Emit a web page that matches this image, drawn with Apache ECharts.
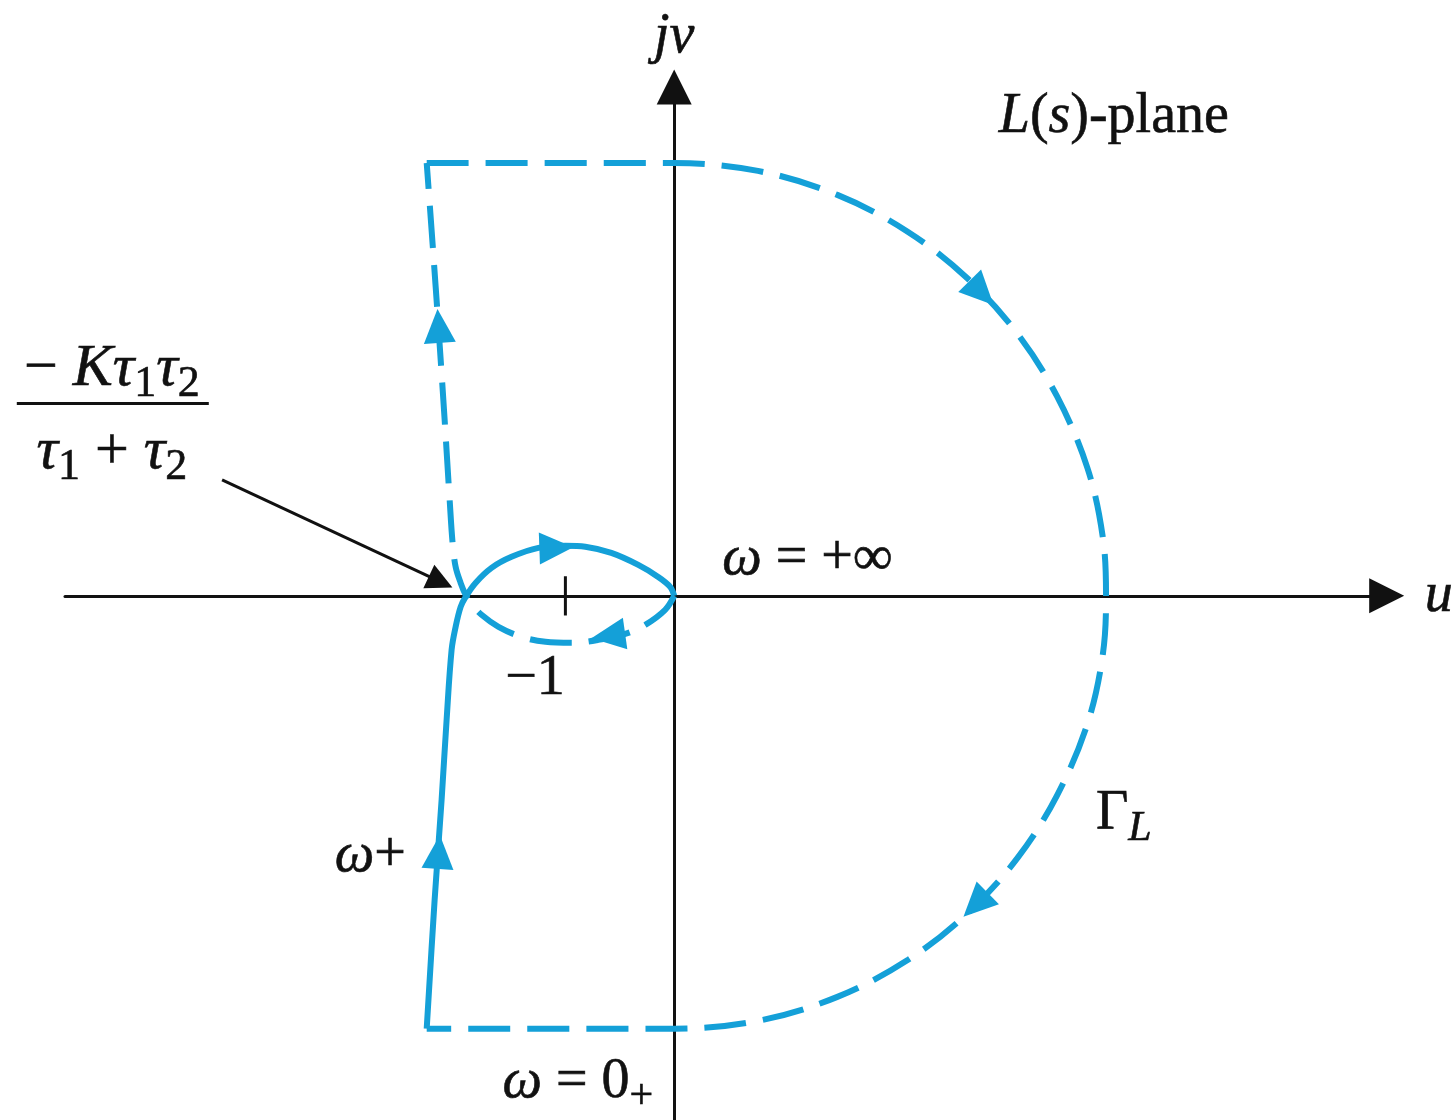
<!DOCTYPE html>
<html>
<head>
<meta charset="utf-8">
<style>
  html, body { margin: 0; padding: 0; background: #ffffff; }
  #chart { width: 1456px; height: 1120px; }
</style>
<script src="https://cdn.jsdelivr.net/npm/echarts@6/dist/echarts.min.js"></script>
</head>
<body>
<div id="chart"></div>
<script>
// Nyquist contour Γ_L of L(s) drawn in the L(s)-plane (u + jv).

// ω from 0+ up to +∞ (solid branch), [u, v]
const positiveBranch = [
  [-2.275, -3.972], [-2.202, -2.789], [-2.138, -1.872], [-2.092, -1.138],
  [-2.046, -0.495], [-2.009, -0.284], [-1.963, -0.101], [-1.917, -0.009],
  [-1.826, 0.119], [-1.679, 0.257], [-1.495, 0.358], [-1.248, 0.440],
  [-1.000, 0.459], [-0.817, 0.450], [-0.578, 0.394], [-0.330, 0.284],
  [-0.147, 0.174], [-0.037, 0.083], [0, 0]
];

// ω from -∞ back to 0- (dashed mirror branch), [u, v]
const negativeBranch = [
  [0, 0], [-0.083, -0.128], [-0.266, -0.266], [-0.450, -0.349],
  [-0.697, -0.404], [-0.945, -0.431], [-1.183, -0.422], [-1.404, -0.376],
  [-1.615, -0.284], [-1.771, -0.174], [-1.872, -0.064], [-1.917, 0.009],
  [-1.963, 0.119], [-2.009, 0.266], [-2.037, 0.486], [-2.064, 0.881],
  [-2.110, 1.615], [-2.165, 2.440], [-2.220, 3.220], [-2.275, 3.972]
];

// image of the small indentation around the origin pole (dashed), [u, v]
const largeArc = [
  [-2.275, 3.972], [0, 3.972], [0.77, 3.90], [1.50, 3.68], [2.15, 3.34],
  [2.70, 2.91], [3.16, 2.40], [3.52, 1.83], [3.80, 1.17], [3.94, 0.54],
  [3.97, 0], [3.94, -0.54], [3.80, -1.17], [3.52, -1.83], [3.16, -2.40],
  [2.70, -2.91], [2.15, -3.34], [1.50, -3.68], [0.77, -3.90], [0, -3.972],
  [-2.275, -3.972]
];

// the -1 point on the real axis
const criticalPoint = -1;

// direction arrows along the contour: [u, v, heading in degrees]
const solidArrows = [[-2.165, -2.349, 86], [-1.083, 0.440, 2]];
const dashedArrows = [
  [-0.606, -0.367, 188], [-2.165, 2.477, 94],
  [2.826, 2.780, -45.5], [2.771, -2.835, -135.7]
];

// leader from the formula to the real-axis crossing
const pointer = [[-4.156, 1.064], [-2.147, 0.128]];

// annotation texts and their anchors
const labelTexts = [
  '{it|L}{rm|(}{it|s}{rm|)-plane}',
  '{it|ω}{rm| = +∞}',
  '{rm|−1}',
  '{rm|− }{it|K}{it|τ}{sub|1}{it|τ}{sub|2}',
  '{bar|}',
  '{it|τ}{sub|1}{rm| + }{it|τ}{sub|2}',
  '{it|ω}{rm|+}',
  '{it|ω}{rm| = 0}{sub|+}',
  '{rm|Γ}{subIt|L}'
];
const labelAnchors = [
  [4.046, 4.385], [1.230, 0.330], [-1.275, -0.771],
  [-5.165, 2.073], [-5.156, 1.761], [-5.165, 1.315],
  [-2.789, -2.394], [-0.881, -4.468], [4.138, -2.009]
];

const BLUE = '#14a0d8';
const INK = '#111111';
const SERIF = '"Liberation Serif", "Times New Roman", serif';
const FS = 56;
const FRAC = 60;
const SUB = 42;
const TICK = 0.18;
const DASH = [42, 17];
const LW = 6;

const ink = { color: INK, textBorderColor: INK, textBorderWidth: 0.6, opacity: 1 };
const rich = {
  it: Object.assign({ fontFamily: SERIF, fontStyle: 'italic', fontSize: FS }, ink),
  rm: Object.assign({ fontFamily: SERIF, fontSize: FS }, ink),
  sub: Object.assign({ fontFamily: SERIF, fontSize: SUB, padding: [30, 0, 0, 0] }, ink),
  subIt: Object.assign({ fontFamily: SERIF, fontStyle: 'italic', fontSize: SUB, padding: [30, 0, 0, 0] }, ink),
  bar: { backgroundColor: INK, width: 192, height: 3 }
};
// the fraction is set a little larger than the other annotations
const fractionRich = {
  it: Object.assign({}, rich.it, { fontSize: FRAC }),
  rm: Object.assign({}, rich.rm, { fontSize: FRAC }),
  sub: Object.assign({}, rich.sub, { fontSize: SUB + 2 }),
  bar: rich.bar
};

const arrowItems = (list) => list.map(a => ({ value: [a[0], a[1]], symbolRotate: a[2] - 90 }));
const labelItems = labelAnchors.map((p, i) => ({
  value: p,
  label: (i >= 3 && i <= 5) ? { rich: fractionRich } : undefined
}));

const chart = echarts.init(document.getElementById('chart'), null, { renderer: 'canvas' });

chart.setOption({
  animation: false,
  backgroundColor: '#ffffff',
  grid: { left: 65, right: 66, top: 87, bottom: 0, containLabel: false },
  xAxis: {
    type: 'value', min: -5.6, max: 6.55,
    axisLine: {
      onZero: true, symbol: ['none', 'triangle'], symbolSize: [35, 35],
      lineStyle: { color: INK, width: 3 }
    },
    axisTick: { show: false }, axisLabel: { show: false }, splitLine: { show: false },
    name: 'u', nameLocation: 'end', nameGap: 38,
    nameTextStyle: Object.assign({ fontFamily: SERIF, fontStyle: 'italic', fontSize: FS }, ink)
  },
  yAxis: {
    type: 'value', min: -4.81, max: 4.67,
    axisLine: {
      onZero: true, symbol: ['none', 'triangle'], symbolSize: [35, 35],
      lineStyle: { color: INK, width: 3 }
    },
    axisTick: { show: false }, axisLabel: { show: false }, splitLine: { show: false },
    name: 'jv', nameLocation: 'end', nameGap: 22,
    nameTextStyle: Object.assign({ fontFamily: SERIF, fontStyle: 'italic', fontSize: FS }, ink)
  },
  series: [
    {
      name: 'ω > 0', type: 'line', data: positiveBranch, smooth: 0.35,
      showSymbol: false, symbol: 'none', clip: false, silent: true,
      lineStyle: { color: BLUE, width: LW }, z: 3
    },
    {
      name: 'ω < 0', type: 'line', data: negativeBranch, smooth: 0.35,
      showSymbol: false, symbol: 'none', clip: false, silent: true,
      lineStyle: { color: BLUE, width: LW, type: DASH }, z: 3
    },
    {
      name: 'arc', type: 'line', data: largeArc, smooth: 0.35,
      showSymbol: false, symbol: 'none', clip: false, silent: true,
      lineStyle: { color: BLUE, width: LW, type: DASH }, z: 3
    },
    {
      name: 'tick', type: 'line',
      data: [[criticalPoint, -TICK], [criticalPoint, TICK]],
      showSymbol: false, symbol: 'none', clip: false, silent: true,
      lineStyle: { color: INK, width: 3 }, z: 2
    },
    {
      name: 'arrows', type: 'scatter', silent: true, z: 4,
      symbol: 'triangle', symbolSize: [32, 34],
      itemStyle: { color: BLUE, opacity: 1 },
      data: arrowItems(solidArrows.concat(dashedArrows))
    },
    {
      name: 'pointer', type: 'lines', coordinateSystem: 'cartesian2d', silent: true, z: 4,
      symbol: ['none', 'triangle'], symbolSize: 26,
      lineStyle: { color: INK, width: 3, opacity: 1, curveness: 0 },
      data: [{ coords: pointer }]
    },
    {
      name: 'labels', type: 'scatter', silent: true, z: 5,
      symbol: 'circle', symbolSize: 1,
      itemStyle: { color: 'rgba(0,0,0,0)' },
      label: {
        show: true, position: [0, 0], align: 'center', verticalAlign: 'middle',
        color: INK, opacity: 1,
        formatter: (p) => labelTexts[p.dataIndex],
        rich: rich
      },
      data: labelItems
    }
  ]
});
</script>
</body>
</html>
